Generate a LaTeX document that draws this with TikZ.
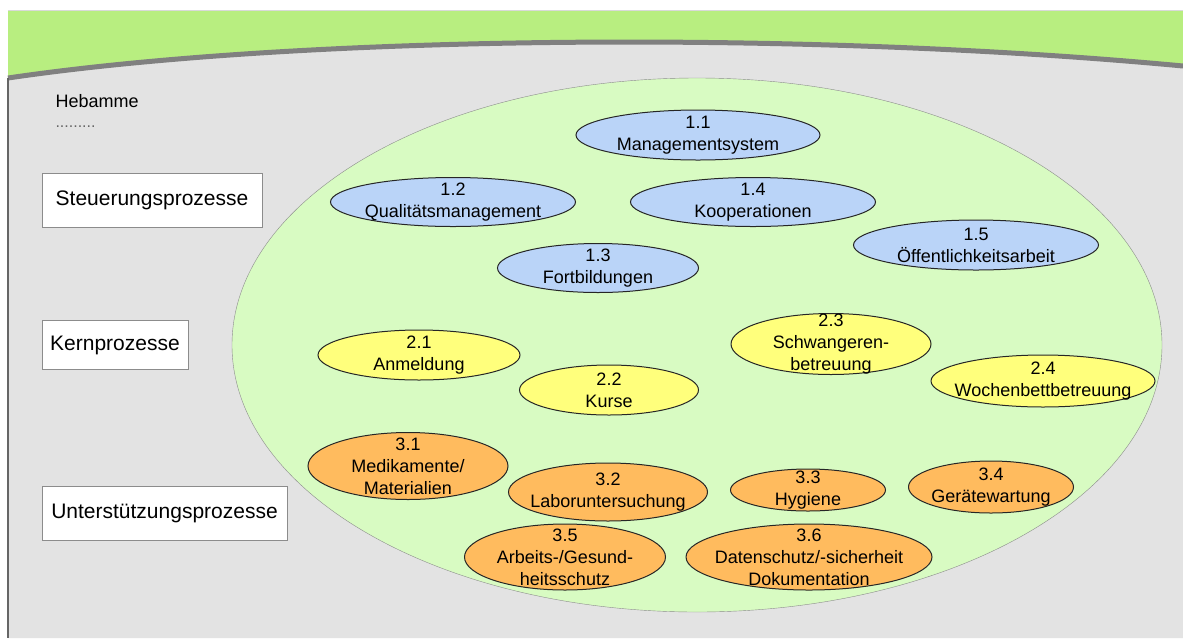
\documentclass[tikz,border=0pt]{standalone}
\usepackage{fontspec}
\setmainfont{Liberation Sans}
\usetikzlibrary{shapes.geometric}
\definecolor{bandgreen}{HTML}{B8EE80}
\definecolor{panelgrey}{HTML}{E3E3E3}
\definecolor{ovalgreen}{HTML}{D8FBC2}
\definecolor{steublue}{HTML}{BAD4F8}
\definecolor{kernyellow}{HTML}{FFFF7C}
\definecolor{unterorange}{HTML}{FFBB5E}
\begin{document}
\begin{tikzpicture}[x=1pt,y=-1pt,
    oval/.style={ellipse,draw=black!85,line width=1pt,inner sep=0pt},
    steu/.style={oval,fill=steublue},
    kern/.style={oval,fill=kernyellow},
    unter/.style={oval,fill=unterorange},
    txt/.style={align=center,inner sep=0pt,font=\fontsize{18}{22}\selectfont},
    lbox/.style={draw=black!45,fill=white,line width=1pt,inner sep=0pt,font=\fontsize{21}{24}\selectfont}]
    \useasboundingbox (0,0) rectangle (1183,638);
    % Hintergrund
    \fill[bandgreen] (8,10) rectangle (1183,80);
    \fill[panelgrey] (8,78) .. controls (300,35) and (800,30) .. (1183,66) -- (1183,638) -- (8,638) -- cycle;
    \draw[black!50,line width=5pt] (8,78) .. controls (300,35) and (800,30) .. (1183,66);
    \draw[black!60,line width=2pt] (8,78) -- (8,638);
    \draw[black!15] (8,10) -- (1183,10);
    % linke Spalte
    \node[anchor=west,font=\fontsize{18}{22}\selectfont] (heb) at (52,101) {Hebamme};
    \node[anchor=west,black!60,font=\fontsize{16}{20}\selectfont] (dots) at (52,127) {.........};
    \node[lbox,minimum width=220,minimum height=54] (steuer) at (152,200) {Steuerungsprozesse};
    \node[lbox,minimum width=146,minimum height=49] (kernp) at (115,345) {Kernprozesse};
    \node[lbox,minimum width=245,minimum height=54] (unterp) at (164.5,513) {Unterstützungsprozesse};
    % grosses Oval
    \node[ellipse,draw=black!45,fill=ovalgreen,minimum width=930,minimum height=534] (gesamt) at (697,345) {};
    % Steuerungsprozesse
    \node[steu,minimum width=244,minimum height=50] (p11) at (698,135) {};
    \node[txt] (t11) at (p11) {1.1\\Managementsystem};
    \node[steu,minimum width=245,minimum height=49] (p12) at (453,202) {};
    \node[txt] (t12) at (p12) {1.2\\Qualitätsmanagement};
    \node[steu,minimum width=245,minimum height=49] (p14) at (753,202) {};
    \node[txt] (t14) at (p14) {1.4\\Kooperationen};
    \node[steu,minimum width=245,minimum height=50] (p15) at (976,245) {};
    \node[txt] (t15) at (p15) {1.5\\Öffentlichkeitsarbeit};
    \node[steu,minimum width=201,minimum height=49] (p13) at (598,268) {};
    \node[txt] (t13) at (p13) {1.3\\Fortbildungen};
    % Kernprozesse
    \node[kern,minimum width=202,minimum height=50] (p21) at (419,355) {};
    \node[txt] (t21) at (p21) {2.1\\Anmeldung};
    \node[kern,minimum width=200,minimum height=61] (p23) at (831,344) {};
    \node[txt] (t23) at (p23) {2.3\\Schwangeren-\\betreuung};
    \node[kern,minimum width=179,minimum height=50] (p22) at (609,390) {};
    \node[txt] (t22) at (p22) {2.2\\Kurse};
    \node[kern,minimum width=224,minimum height=52] (p24) at (1043,381) {};
    \node[txt] (t24) at (p24) {2.4\\Wochenbettbetreuung};
    % Unterstuetzungsprozesse
    \node[unter,minimum width=200,minimum height=67] (p31) at (408,466) {};
    \node[txt] (t31) at (p31) {3.1\\Medikamente/\\Materialien};
    \node[unter,minimum width=199,minimum height=58] (p32) at (608,492) {};
    \node[txt] (t32) at (p32) {3.2\\Laboruntersuchung};
    \node[unter,minimum width=155,minimum height=42] (p33) at (808,490) {};
    \node[txt] (t33) at (p33) {3.3\\Hygiene};
    \node[unter,minimum width=165,minimum height=52] (p34) at (991,487) {};
    \node[txt] (t34) at (p34) {3.4\\Gerätewartung};
    \node[unter,minimum width=201,minimum height=66] (p35) at (565,557) {};
    \node[txt] (t35) at (p35) {3.5\\Arbeits-/Gesund-\\heitsschutz};
    \node[unter,minimum width=246,minimum height=66] (p36) at (809,557) {};
    \node[txt] (t36) at (p36) {3.6\\Datenschutz/-sicherheit\\Dokumentation};
\end{tikzpicture}
\end{document}
